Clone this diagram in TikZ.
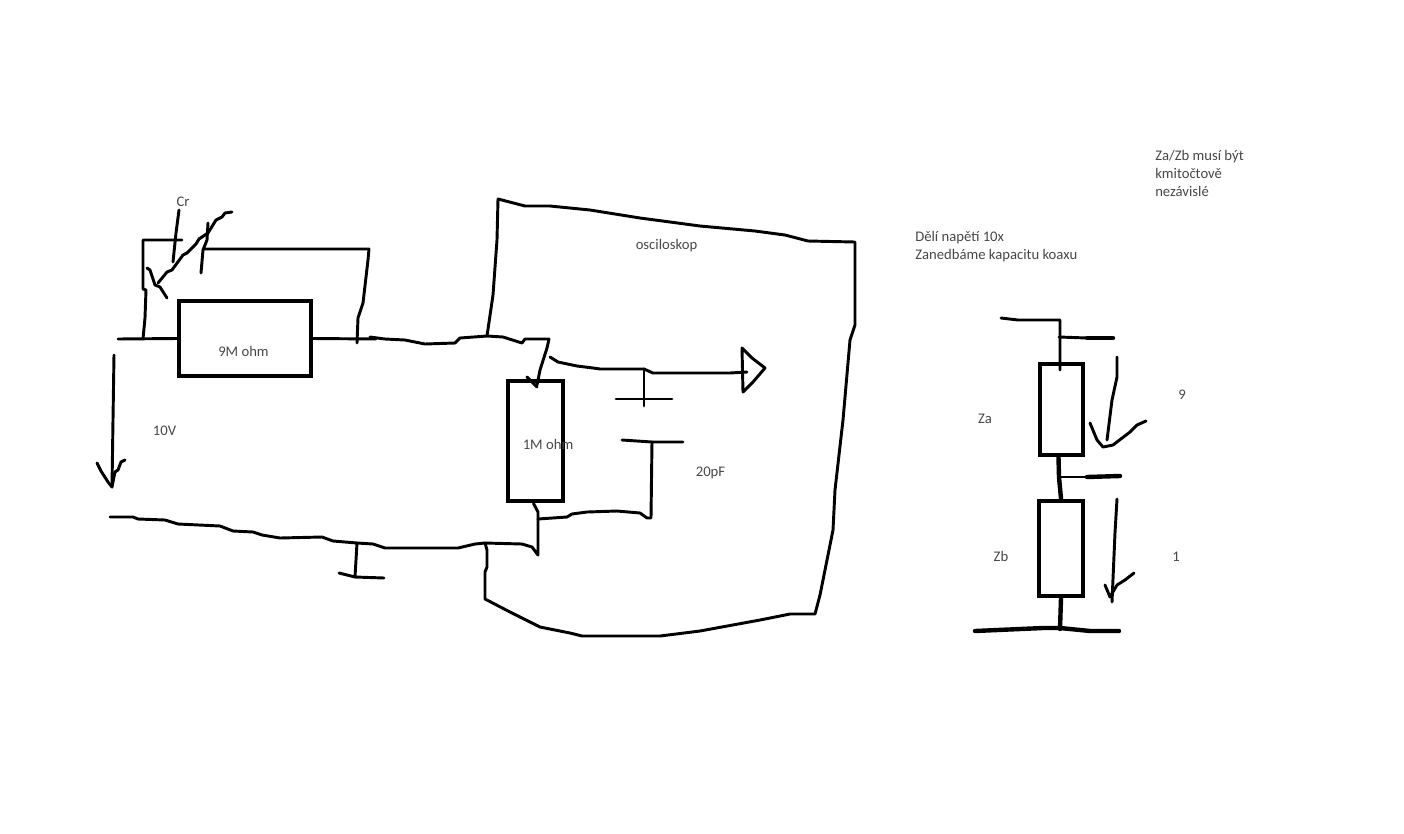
\documentclass[tikz,border=0pt]{standalone}
\usepackage{fontspec}
\setmainfont{Carlito}
\usepackage{tikz}
\usetikzlibrary{positioning}
\tikzset{wire/.style={
    % The stroke:
    line width=2.2pt,
    black,
    line join=round,
    line cap=round,
    },
    heavywire/.style={
    wire,
    line width=3.3pt,
    },
    resistor/.style={
    rectangle,
    inner sep=0pt,
    line width=3.6pt,
    draw=black,
    },
    label/.style={
    font=\fontsize{11}{13.5}\selectfont,
    text=black!72,
    inner sep=0pt,
    align=left,
    },
}

\begin{document}
\begin{tikzpicture}[x=0.75pt,y=-0.75pt]
    \useasboundingbox (0,0) rectangle (1404,833);

    % probe resistors
    \node (rnine) [resistor,minimum width=99pt,minimum height=56.25pt] at (245,338.5) {};
    \node (rone)  [resistor,minimum width=41.25pt,minimum height=90pt] at (535.5,441) {};
    % divider
    \node (za) [resistor,minimum width=32.25pt,minimum height=68.25pt] at (1061.5,409.5) {};
    \node (zb) [resistor,minimum width=33pt,minimum height=71.25pt] at (1061,548.5) {};

    \coordinate (inleft)  at (118,339);
    \coordinate (crtap)   at (143,339);
    \coordinate (crout)   at (357,343);
    \coordinate (topend)  at (549,339);
    \coordinate (sigtap)  at (644,369);
    \coordinate (scopein) at (747,372);
    \coordinate (botjoin) at (538,519);
    \coordinate (botend)  at (538,555);
    \coordinate (gndtap)  at (357,543);
    \coordinate (coaxtap) at (485,543);
    \coordinate (midtap)  at (1059,477);

    % input and output of the 9M resistor
    \draw[wire] (inleft) -- (rnine.west);
    \draw[wire] (rnine.east) -- (376,339);
    % Cr
    \draw[wire] (crtap) -- (145,318) -- (146,290) -- (143,289) -- (143,240) -- (182,240);
    \draw[wire] (179,210) -- (176,233) -- (173,262);
    \draw[wire] (208,223) -- (207,240) -- (203,250) -- (201,273);
    \draw[wire] (203,249) -- (275,249) -- (369,249) -- (368,260) -- (363,303) -- (358,318) -- (crout);
    \draw[wire] (232,212) -- (225,213) -- (222,217) -- (216,220) -- (208,233) -- (199,239) -- (196,244)
        -- (187,253) -- (183,255) -- (172,270) -- (167,272) -- (158,283);
    \draw[wire] (147,268) -- (150,270) -- (155,285) -- (160,287) -- (167,298);
    % 10V arrow
    \draw[wire] (114,355) -- (113,420) -- (112,487);
    \draw[wire] (97,463) -- (101,471) -- (108,482) -- (112,487) -- (115,472) -- (118,470) -- (121,462) -- (125,460);
    % top wire to the 1M resistor
    \draw[wire] (370,337) -- (385,339) -- (405,340) -- (425,344) -- (455,343) -- (460,338)
        -- (487,336) -- (503,337) -- (522,343) -- (525,339) -- (topend)
        -- (547,348) -- (540,370) -- (537,385);
    \draw[wire] (527,377) -- (537,387);
    % signal wire
    \draw[wire] (550,357) -- (558,362) -- (577,366) -- (593,368) -- (600,369) -- (sigtap)
        -- (653,373) -- (730,373) -- (scopein);
    \draw[wire] (742,348) -- (743,392) -- (753,382) -- (765,368) -- (752,358) -- cycle;
    % 20pF
    \draw[wire] (sigtap) -- (644,406);
    \draw[wire] (616,399) -- (672,399);
    \draw[wire] (622,440) -- (652,442) -- (683,442);
    \draw[wire] (652,442) -- (651,518) -- (647,518) -- (640,513) -- (617,511) -- (587,512)
        -- (572,514) -- (567,517) -- (botjoin);
    \draw[wire] (rone.south) ++(-2,0) -- (538,512) -- (botjoin) -- (botend) -- (532,547) -- (522,544);
    % bottom wire
    \draw[wire] (110,517) -- (133,517) -- (138,519) -- (165,520) -- (178,524) -- (220,526)
        -- (233,531) -- (253,532) -- (262,535) -- (280,538) -- (322,537) -- (333,541)
        -- (gndtap) -- (373,544) -- (385,548) -- (458,548) -- (475,544) -- (coaxtap) -- (522,544);
    % ground
    \draw[wire] (gndtap) -- (355,577);
    \draw[wire] (339,573) -- (355,577) -- (384,578);
    % oscilloscope outline
    \draw[wire] (487,336) -- (493,295) -- (497,240) -- (498,199) -- (525,206) -- (550,206)
        -- (590,210) -- (640,218) -- (700,226) -- (755,231) -- (785,235) -- (808,241)
        -- (855,242) -- (855,325) -- (850,340) -- (843,420) -- (835,490) -- (833,530)
        -- (825,570) -- (820,595) -- (815,614) -- (790,614) -- (760,620) -- (700,631)
        -- (660,636) -- (582,636) -- (570,633) -- (540,627) -- (510,612) -- (485,599)
        -- (485,572) -- (487,567) -- (487,550) -- (coaxtap);

    % divider wires
    \draw[wire] (1001,318) -- (1018,320) -- (1060,320) -- (1060,370);
    \draw[wire] (1059,337) -- (1087,338);
    \draw[heavywire] (1087,338) -- (1113,338);
    \draw[heavywire] (za.south) ++(-3,0) -- (midtap) -- (zb.north);
    \draw[wire] (midtap) -- (1087,477);
    \draw[heavywire] (1087,477) -- (1120,476);
    \draw[heavywire] (zb.south) -- (1060,629);
    \draw[heavywire] (975,631) -- (1043,628) -- (1060,628) -- (1090,631) -- (1119,631);
    % 9 arrow
    \draw[wire] (1117,357) -- (1117,377) -- (1112,400) -- (1107,440);
    \draw[wire] (1090,423) -- (1097,440) -- (1103,447) -- (1113,445) -- (1130,432) -- (1137,425) -- (1146,421);
    % 1 arrow
    \draw[wire] (1117,499) -- (1115,533) -- (1112,602);
    \draw[wire] (1105,585) -- (1110,597) -- (1117,585) -- (1125,580) -- (1134,573);

    % labels
    \node (cr)    [label] at (183,202) {Cr};
    \node (nine)  [label] at (243.5,351) {9M ohm};
    \node (volts) [label] at (164.5,431) {10V};
    \node (one)   [label] at (548,444) {1M ohm};
    \node (scope) [label] at (666.5,246) {osciloskop};
    \node (pf)    [label] at (710.5,473) {20pF};
    \node (note)  [label,anchor=north west] at (915,231.5) {Dělí napětí 10x\\Zanedbáme kapacitu koaxu};
    \node (cond)  [label,anchor=north west] at (1155,150) {Za/Zb musí být\\kmitočtově\\nezávislé};
    \node (zal)   [label] at (985,418.5) {Za};
    \node (zbl)   [label] at (1001,556.5) {Zb};
    \node (ninel) [label] at (1182,395) {9};
    \node (onel)  [label] at (1176,557) {1};
\end{tikzpicture}
\end{document}
